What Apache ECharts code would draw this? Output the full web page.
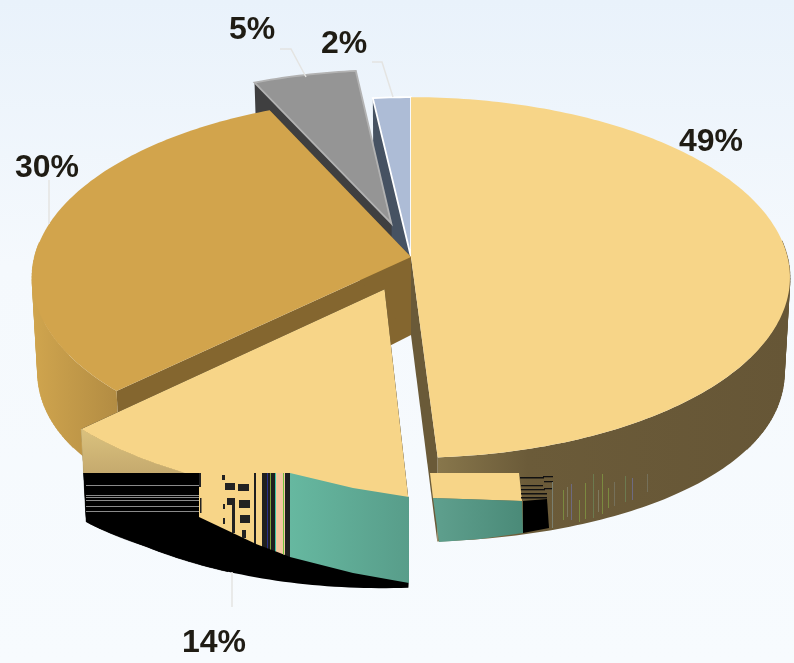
<!DOCTYPE html>
<html><head><meta charset="utf-8">
<style>html,body{margin:0;padding:0;background:#f6fafe}#c{width:794px;height:663px}</style>
<script src="https://cdn.jsdelivr.net/npm/echarts@6/dist/echarts.min.js"></script>
</head><body><div id="c"></div>
<script>
// ---- data (shares clockwise from 12 o'clock) ----
const shares   = [49, 13.8, 30.4, 5, 1.8];
const explode  = [0, 0.19, 0, 0.2, 0];
// ---- style ----
const topColors  = ['#f7d588', '#f7d588', '#d2a44c', '#959595', '#adbcd6'];
const faceColors = ['#6a5a38', '#000000', '#84662f', '#3f3f40', '#465262'];
const borders    = [null, null, null, '#b2b2b2', '#ffffff'];
const paintOrder = [3, 4, 2, 1, 0];
const wallExtra  = [0, 4, 0, 0, 0];
const labelAnchors = [[711,142],[214,643],[47,168],[252,30],[344,44]];
const leaders = [null, [[232,572],[232,607]], [[49,224],[49,180]], [[306,77],[291,49],[280,49]], [[393,97],[382,62],[372,62]]];

// ---- projection of the disc ----
const CX=411, CY=257, RX=376.5, RY=178, P=0.1137, DROP=78, KX=0.985, KY=1.03, ROUND=17;
const rad = d => d*Math.PI/180;
function project(u,v,bottom,extra){
  const s=1/(1-P*v);
  if(!bottom) return [CX+RX*u*s, CY+RY*v*s];
  const bump=ROUND*Math.max(0,1-v*v)*Math.min(1.4,u*u+v*v);
  return [CX+RX*u*s*KX, CY+DROP+RY*v*s*KY+bump+(extra||0)];
}
function wallFill(i){
  if(i===0) return {type:'linear',global:true,x:440,y:0,x2:790,y2:0,colorStops:[
    {offset:0,color:'#87764b'},{offset:0.25,color:'#6b5b39'},{offset:1,color:'#665636'}]};
  if(i===1) return {type:'linear',global:true,x:0,y:434,x2:0,y2:590,colorStops:[
    {offset:0,color:'#d8bf7c'},{offset:0.25,color:'#c5aa6e'},{offset:0.25,color:'#000'},{offset:1,color:'#000'}]};
  if(i===2) return {type:'linear',global:true,x:32,y:0,x2:125,y2:0,colorStops:[
    {offset:0,color:'#d0a54e'},{offset:1,color:'#b08a42'}]};
  return faceColors[i];
}
const total = shares.reduce((a,b)=>a+b,0);

function renderSlice(params, api){
  const i=params.dataIndex, value=api.value(0);
  let start=0; for(let k=0;k<i;k++) start+=shares[k];
  const a0=start/total*360, a1=(start+value)/total*360, mid=(a0+a1)/2;
  const ox=Math.sin(rad(mid))*explode[i], oy=-Math.cos(rad(mid))*explode[i];
  const n=Math.max(2,Math.ceil(a1-a0)), top=[], wallT=[], wallB=[];
  let bot0,botN;
  for(let j=0;j<=n;j++){
    const t=rad(a0+(a1-a0)*j/n), u=Math.sin(t)+ox, v=-Math.cos(t)+oy;
    const pt=project(u,v,false), pb=project(u,v,true,wallExtra[i]);
    top.push(pt);
    if(j===0) bot0=pb; if(j===n) botN=pb;
    if(v>-0.1){wallT.push(pt);wallB.push(pb);}   // only the wall that faces the viewer
  }
  const apexT=project(ox,oy,false), apexB=project(ox,oy,true);
  const base=paintOrder[i]*10+10, kids=[];
  const poly=(pts,fill,z,stroke,lw)=>kids.push({type:'polygon',z2:base+z,shape:{points:pts},
    style:{fill:fill,stroke:stroke||null,lineWidth:stroke?lw:0}});
  // radial faces
  poly([apexT,top[0],bot0,apexB],faceColors[i],0);
  poly([apexT,top[top.length-1],botN,apexB],faceColors[i],1);
  // outer wall, split where it folds over itself at the silhouette
  if(wallT.length>1){
    const fill=wallFill(i);
    let fold=0, widest=-1;
    wallT.forEach((p,k)=>{const w=Math.abs(p[0]-CX); if(w>widest){widest=w;fold=k;}});
    for(let k=Math.max(0,fold-25);k<Math.min(wallT.length-1,fold+25);k++)
      poly([wallT[k],wallT[k+1],wallB[k+1],wallB[k]],fill,1.5,fill,0.5);   // fills the fold
    const piece=(a,b)=>{ if(b-a<1) return;
      poly(wallT.slice(a,b+1).concat(wallB.slice(a,b+1).reverse()),fill,2); };
    piece(0,fold); piece(fold,wallT.length-1);
  }
  // top face
  poly([apexT].concat(top),topColors[i],3,borders[i],1.8);
  // label and leader
  if(leaders[i]) kids.push({type:'polyline',z2:base+4,shape:{points:leaders[i]},style:{fill:null,stroke:'#e4e4e2',lineWidth:1.5}});
  kids.push({type:'text',z2:200,style:{x:labelAnchors[i][0],y:labelAnchors[i][1],text:Math.round(value)+'%',
    font:'bold 32px "Liberation Sans",Arial,sans-serif',fill:'#1f1c14',align:'center',verticalAlign:'middle'}});
  return {type:'group',children:kids};
}

// ---- the reference's texture-rendering defects on the walls (not data) ----
const artefacts=[];
const lerpPath=(path,x)=>{for(let k=0;k<path.length-1;k++){const a=path[k],b=path[k+1];
  if(x<=b[0]){return a[1]+(b[1]-a[1])*(x-a[0])/(b[0]-a[0]);}} return path[path.length-1][1];};
const patchLow=[[199,517],[233,535],[290,557],[353,573],[409,583]];
const Z=10;
const addPoly=(pts,fill,z)=>artefacts.push({type:'polygon',z:Z+(z||0),shape:{points:pts},style:{fill:fill}});
const addRect=(x,y,w,h,fill,z)=>artefacts.push({type:'rect',z:Z+(z||0),shape:{x,y,width:w,height:h},style:{fill:fill}});
const stripe=(x1,x2,fill,top)=>addPoly([[x1,top||473],[x2,top||473],[x2,lerpPath(patchLow,x2)],[x1,lerpPath(patchLow,x1)]],fill,1);
// black left part with grey scan lines
addPoly([[85.5,473],[200,473],[200,516],[87,514]],'#000');
[485,495,497,500,506,511].forEach(y=>addRect(86,y,114,0.9,'#8a8a8a',1));
// teal front
addPoly([[290,473],[353,488],[409,497],[409,583],[353,573],[290,557]],
  {type:'linear',global:true,x:290,y:0,x2:409,y2:0,colorStops:[{offset:0,color:'#66b8a0'},{offset:1,color:'#589d8a'}]});
// yellow checker band
stripe(199,254,'#f7d588'); stripe(254,256,'#1f1f1f'); stripe(256,262,'#f7d588'); stripe(262,276,'#1f1f1f');
stripe(267,268,'#2a2f8a'); stripe(270,271,'#7da33a'); stripe(276,285,'#f3c9a0'); stripe(285,290,'#1f1f1f');
stripe(283,284,'#6fc23a'); stripe(275,276,'#3cc7a4');
[[225,483,10,7],[238,484,11,7],[227,498,8,7],[239,500,11,8],[240,515,10,8],[242,530,4,8],[223,504,2,5],[223,518,2,6],
 [232,500,3,33],[222,475,3,5],[199,473,2,14],[200,498,1.5,15]].forEach(r=>addRect(r[0],r[1],r[2],r[3],'#222',2));
// strip on the large slice's wall
addPoly([[430,473],[519,473],[522,501],[433,498]],'#f7d588');
addPoly([[433,498],[522,501],[523,533],[480,539],[439,542]],
  {type:'linear',global:true,x:433,y:0,x2:523,y2:0,colorStops:[{offset:0,color:'#5fa08e'},{offset:1,color:'#4a8a78'}]});
addPoly([[523,501],[547,499],[549,528],[523,533]],'#000');
addRect(520,477,24,1.5,'#111'); addRect(521,485,22,1.3,'#111'); addRect(521,489,24,1.3,'#111');
addRect(521,493,26,1.5,'#111'); addRect(521,497,26,1.5,'#111'); addRect(543,476,10,1.3,'#111'); addRect(544,481,9,1.3,'#111'); addRect(544,488,9,1.3,'#111');
[[552,482,46,'#7a7f70'],[563,490,30,'#7b8a40'],[567,487,30,'#7f7a5e'],[571,484,36,'#6e6a80'],[579,500,22,'#7b8a40'],[585,483,36,'#7b8a40'],[593,474,44,'#6c7a50'],
 [598,490,22,'#7f7a5e'],[602,474,40,'#7b8a40'],[608,488,20,'#7b8a40'],[614,482,24,'#75705a'],[625,476,26,'#6c7a50'],[632,478,22,'#6e6a80'],[647,474,18,'#75705a']]
 .forEach(l=>addRect(l[0],l[1],1,l[2],l[3],1));

const chart=echarts.init(document.getElementById('c'),null,{renderer:'canvas'});
chart.setOption({
  animation:false,
  backgroundColor:{type:'linear',x:0,y:0,x2:0,y2:1,colorStops:[
    {offset:0,color:'#e9f2fb'},{offset:0.4,color:'#f5f9fd'},{offset:1,color:'#f7fbfe'}]},
  graphic:{elements:artefacts},
  series:[{type:'custom',coordinateSystem:'none',silent:true,z:2,data:shares.map(v=>[v]),renderItem:renderSlice}]
});
</script></body></html>
